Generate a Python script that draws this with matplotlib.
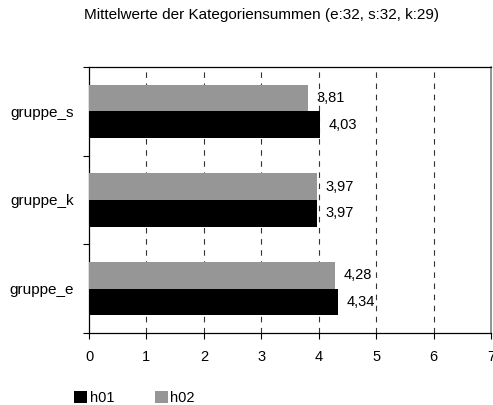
import matplotlib
matplotlib.use("Agg")
import matplotlib.pyplot as plt
from matplotlib.patches import Patch
import numpy as np

# ---- DATA ----
categories = ["gruppe_e", "gruppe_k", "gruppe_s"]
h01 = [4.34, 3.97, 4.03]
h02 = [4.28, 3.97, 3.81]
series_names = ["h01", "h02"]
title = "Mittelwerte der Kategoriensummen (e:32, s:32, k:29)"

plt.rcParams["font.family"] = ["Liberation Sans", "DejaVu Sans"]
plt.rcParams["font.size"] = 10

fig = plt.figure(figsize=(4.93, 4.05), dpi=100)
ax = fig.add_axes([89 / 493, 1 - 333 / 405, 402 / 493, (333 - 67) / 405])

y = np.arange(len(categories))
h = 0.3
b1 = ax.barh(y - h / 2, h01, height=h, color="black", zorder=3)
b2 = ax.barh(y + h / 2, h02, height=h, color="#969696", zorder=3)

fmt = lambda v: f"{v:.2f}".replace(".", ",")
ax.bar_label(b1, labels=[fmt(v) for v in h01], padding=6, fontsize=10.5, zorder=4)
ax.bar_label(b2, labels=[fmt(v) for v in h02], padding=6, fontsize=10.5, zorder=4)

ax.set_xlim(0, 7)
ax.set_ylim(-0.5, len(categories) - 0.5)
ax.set_xticks(range(8))
ax.set_yticks(y)
ax.set_yticklabels(categories, fontsize=11)
ax.set_yticks(np.arange(-0.5, len(categories)), minor=True)
ax.tick_params(axis="y", which="major", length=0, pad=11)
ax.tick_params(axis="y", which="minor", length=4, width=0.8, direction="out")
ax.tick_params(axis="x", length=4, width=0.8, direction="out", pad=8, labelsize=10.5)

for xv in range(1, 7):
    ax.axvline(xv, color="#333333", linewidth=0.8, linestyle=(0, (5, 5)), zorder=1)

for s in ["left", "bottom", "top"]:
    ax.spines[s].set_color("black")
    ax.spines[s].set_linewidth(0.9)
ax.spines["right"].set_color("#808080")
ax.spines["right"].set_linewidth(1.2)

fig.text(262 / 493, 1 - 15 / 405, title, ha="center", va="center", fontsize=11)

handles = [Patch(facecolor="black"), Patch(facecolor="#969696")]
fig.legend(handles, series_names, loc="lower left", bbox_to_anchor=(64 / 493, -0.025),
           ncol=2, frameon=False, handlelength=0.9, handleheight=0.9,
           handletextpad=0.15, columnspacing=2.8, borderpad=0.2, fontsize=10.5)

fig.savefig("out.png", dpi=100)
